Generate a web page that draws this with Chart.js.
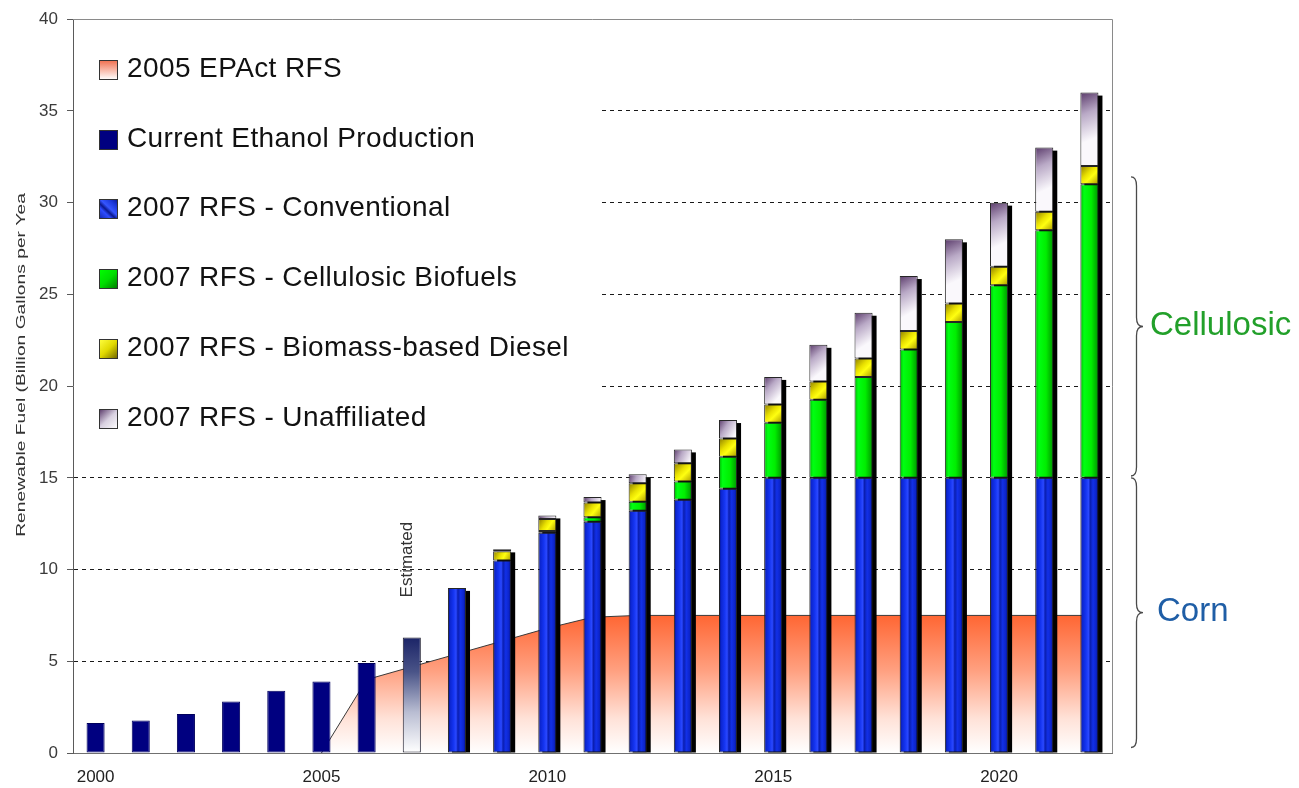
<!DOCTYPE html>
<html>
<head>
<meta charset="utf-8">
<title>Renewable Fuel Standard</title>
<script src="https://cdn.jsdelivr.net/npm/chart.js@4/dist/chart.umd.min.js"></script>
<style>
  html, body { margin: 0; padding: 0; background: #ffffff; }
  #wrap { position: relative; width: 1299px; height: 788px; }
</style>
</head>
<body>
<div id="wrap"><canvas id="rfs"></canvas></div>
<script>
// ---- data (billion gallons per year) ----
const years = ['2000','2001','2002','2003','2004','2005','2006','2007','2008','2009','2010',
               '2011','2012','2013','2014','2015','2016','2017','2018','2019','2020','2021','2022'];
const labeledYears = ['2000','2005','2010','2015','2020'];
const yMax = 40;
const yStep = 5;

const seriesNames = [
  '2005 EPAct RFS',
  'Current Ethanol Production',
  '2007 RFS - Conventional',
  '2007 RFS - Cellulosic Biofuels',
  '2007 RFS - Biomass-based Diesel',
  '2007 RFS - Unaffiliated'
];

const epactRfs        = [null,null,null,null,null,0,4.0,4.7,5.4,6.1,6.8,7.4,7.5,7.5,7.5,7.5,7.5,7.5,7.5,7.5,7.5,7.5,7.5];
const currentEthanol  = [1.63,1.77,2.13,2.81,3.40,3.90,4.90,null,null,null,null,null,null,null,null,null,null,null,null,null,null,null,null];
const estimatedEthanol= [null,null,null,null,null,null,null,6.3,null,null,null,null,null,null,null,null,null,null,null,null,null,null,null];
const conventional    = [null,null,null,null,null,null,null,null,9.0,10.5,12.0,12.6,13.2,13.8,14.4,15,15,15,15,15,15,15,15];
const cellulosic      = [null,null,null,null,null,null,null,null,null,null,0.1,0.25,0.5,1.0,1.75,3.0,4.25,5.5,7.0,8.5,10.5,13.5,16.0];
const biomassDiesel   = [null,null,null,null,null,null,null,null,null,0.5,0.65,0.8,1.0,1.0,1.0,1.0,1.0,1.0,1.0,1.0,1.0,1.0,1.0];
const unaffiliated    = [null,null,null,null,null,null,null,null,null,0.1,0.2,0.3,0.5,0.75,1.0,1.5,2.0,2.5,3.0,3.5,3.5,3.5,4.0];

const yTitle = 'Renewable Fuel (Billion Gallons per Yea';
const estimatedLabel = 'Estimated';
const braces = [
  { text: 'Cellulosic', from: 15.1, to: 31.4, color: '#22a02a', textX: 1150 },
  { text: 'Corn',       from: 0.3,  to: 15.0, color: '#1f5ea6', textX: 1157 }
];

const FONT = "'Liberation Sans', Arial, Helvetica, sans-serif";

// ---- fills ----
function grad(g, stops) { stops.forEach(([o, c]) => g.addColorStop(o, c)); return g; }

const barPaint = {
  navy: () => '#000080',
  estimated: (c, x0, y0, x1, y1) => grad(c.createLinearGradient(0, y0, 0, y1),
    [[0, '#1b2467'], [0.3, '#4a5488'], [0.65, '#b9bdd2'], [1, '#ffffff']]),
  conventional: (c, x0, y0, x1, y1) => grad(c.createLinearGradient(x0, 0, x1, 0),
    [[0, '#000c78'], [0.12, '#0c26d0'], [0.3, '#1434f0'], [0.45, '#2a48ff'], [0.55, '#0a1eb0'],
     [0.7, '#1230e8'], [0.88, '#0c24c8'], [1, '#000a70']]),
  cellulosic: (c, x0, y0, x1, y1) => grad(c.createLinearGradient(x0, 0, x1, 0),
    [[0, '#00b400'], [0.2, '#00ff12'], [0.6, '#00ee00'], [1, '#009400']]),
  diesel: (c, x0, y0, x1, y1) => grad(c.createLinearGradient(x0, y0, x1, y1),
    [[0, '#8c7c00'], [0.4, '#e8e000'], [0.6, '#ffff10'], [1, '#a89800']]),
  unaffiliated: (c, x0, y0, x1, y1) => {
    const h = Math.min((y1 - y0) * 0.6, 45);
    return grad(c.createLinearGradient(x0, y0, x1, y0 + Math.max(h, 2)),
      [[0, '#5b3b6b'], [0.45, '#b9a9c6'], [1, '#faf8fc']]);
  }
};

const swatchPaint = [
  (c, x0, y0, x1, y1) => grad(c.createLinearGradient(0, y0, 0, y1), [[0, '#f07050'], [1, '#ffffff']]),
  () => '#000080',
  (c, x0, y0, x1, y1) => grad(c.createLinearGradient(x0, y1, x1, y0),
    [[0, '#1228b0'], [0.3, '#2e4cff'], [0.42, '#0a1890'], [0.55, '#3656ff'], [0.8, '#1a36d8'], [1, '#0a1890']]),
  (c, x0, y0, x1, y1) => grad(c.createLinearGradient(x0, y0, x1, y1), [[0, '#00ff00'], [0.5, '#00dd00'], [1, '#007a00']]),
  (c, x0, y0, x1, y1) => grad(c.createLinearGradient(x0, y0, x1, y1), [[0, '#ffff40'], [0.5, '#e0d800'], [1, '#6e6400']]),
  (c, x0, y0, x1, y1) => grad(c.createLinearGradient(x0, y0, x1, y1), [[0, '#5a3a6a'], [0.5, '#d8d0e0'], [1, '#ffffff']])
];

function epactFill(ctx) {
  const ch = ctx.chart, ys = ch.scales && ch.scales.y;
  if (!ys || !ch.chartArea) return '#ffb090';
  const top = ys.getPixelForValue(Math.max(...epactRfs.filter(v => v != null)));
  const bot = ys.getPixelForValue(0);
  if (!Number.isFinite(top) || !Number.isFinite(bot)) return '#ffb090';
  return grad(ch.ctx.createLinearGradient(0, top, 0, bot),
    [[0, '#ff6633'], [0.4, '#ffa080'], [0.75, '#ffe2d8'], [1, '#ffffff']]);
}

// ---- plugins ----
const barPaintPlugin = {
  id: 'barPaint',
  afterDatasetsUpdate(chart) {
    const c = chart.ctx;
    chart.data.datasets.forEach((ds, di) => {
      if (!ds.paint) return;
      chart.getDatasetMeta(di).data.forEach((el, i) => {
        if (ds.data[i] == null) return;
        const p = el.getProps(['x', 'y', 'base', 'width'], true);
        if (![p.x, p.y, p.base, p.width].every(Number.isFinite)) return;
        const x0 = p.x - p.width / 2, x1 = p.x + p.width / 2;
        const y0 = Math.min(p.y, p.base), y1 = Math.max(p.y, p.base);
        el.options = Object.assign({}, el.options, { backgroundColor: barPaint[ds.paint](c, x0, y0, x1, y1) });
      });
    });
  }
};

// black drop shadow behind each RFS stack, drawn right after the EPAct area
const shadowPlugin = {
  id: 'stackShadow',
  afterDatasetDraw(chart, args) {
    if (chart.data.datasets[args.index].type !== 'line') return;
    const c = chart.ctx;
    const metas = chart.data.datasets.map((ds, di) => ds.shadow ? chart.getDatasetMeta(di) : null).filter(Boolean);
    c.save();
    c.fillStyle = '#000000';
    years.forEach((_, i) => {
      let top = Infinity, base = -Infinity, x = null, w = 0;
      metas.forEach(meta => {
        if (chart.data.datasets[meta.index].data[i] == null) return;
        const el = meta.data[i];
        top = Math.min(top, el.y); base = Math.max(base, el.base); x = el.x; w = el.width;
      });
      if (x == null) return;
      c.fillRect(x - w / 2 + 4, top + 3, w, base - top - 3);
    });
    c.restore();
  }
};

// legend panel and frame, painted over the grid but under the bars
const legendPlugin = {
  id: 'panelLegend',
  beforeDatasetsDraw(chart) {
    const c = chart.ctx, a = chart.chartArea;
    c.save();
    c.strokeStyle = '#8a8a8a';
    c.lineWidth = 1;
    c.beginPath();
    c.moveTo(a.left, Math.round(a.top) + 0.5);
    c.lineTo(Math.round(a.right) + 0.5, Math.round(a.top) + 0.5);
    c.lineTo(Math.round(a.right) + 0.5, a.bottom);
    c.stroke();

    c.fillStyle = '#ffffff';
    c.fillRect(a.left + 1, a.top + 2, 524, 436);

    const baseline0 = 76.7, step = 69.8;
    c.font = `28px ${FONT}`;
    if ('letterSpacing' in c) c.letterSpacing = '0.4px';
    c.textBaseline = 'alphabetic';
    c.textAlign = 'left';
    seriesNames.forEach((name, k) => {
      const bl = baseline0 + k * step;
      const x0 = 99.5, y0 = Math.round(bl - 17) + 0.5, w = 18, h = 19;
      c.fillStyle = swatchPaint[k](c, x0, y0, x0 + w, y0 + h);
      c.fillRect(x0, y0, w, h);
      c.strokeStyle = '#333333';
      c.strokeRect(x0, y0, w, h);
      c.fillStyle = '#111111';
      c.fillText(name, 127, bl);
    });
    c.restore();
  }
};

function drawBrace(c, xHook, xStem, xTip, yTop, yMid, yBot) {
  const r = 9;
  c.beginPath();
  c.moveTo(xHook, yTop);
  c.quadraticCurveTo(xStem, yTop, xStem, yTop + r);
  c.lineTo(xStem, yMid - r);
  c.quadraticCurveTo(xStem, yMid, xTip, yMid);
  c.quadraticCurveTo(xStem, yMid, xStem, yMid + r);
  c.lineTo(xStem, yBot - r);
  c.quadraticCurveTo(xStem, yBot, xHook, yBot);
  c.stroke();
}

const notesPlugin = {
  id: 'notes',
  afterDraw(chart) {
    const c = chart.ctx, xs = chart.scales.x, ys = chart.scales.y;
    c.save();

    // braces with their captions
    c.strokeStyle = '#4a4a4a';
    c.lineWidth = 1.3;
    braces.forEach(b => {
      const yTop = ys.getPixelForValue(b.to), yBot = ys.getPixelForValue(b.from);
      const yMid = (yTop + yBot) / 2;
      drawBrace(c, 1131, 1136.5, 1143, yTop, yMid, yBot);
      c.font = `33px ${FONT}`;
      c.fillStyle = b.color;
      c.textAlign = 'left';
      c.textBaseline = 'alphabetic';
      c.fillText(b.text, b.textX, yMid + 8.5);
    });

    // "Estimated" above the 2007 bar
    const iEst = estimatedEthanol.findIndex(v => v != null);
    const ex = xs.getPixelForValue(iEst) + 0.5;
    const ey = ys.getPixelForValue(estimatedEthanol[iEst]) - 40;
    c.save();
    c.translate(ex, ey);
    c.rotate(-Math.PI / 2);
    c.font = `17px ${FONT}`;
    c.fillStyle = '#333333';
    c.textAlign = 'left';
    c.textBaseline = 'alphabetic';
    c.fillText(estimatedLabel, 0, 0);
    c.restore();

    // value axis title
    c.save();
    c.translate(24.5, 365);
    c.rotate(-Math.PI / 2);
    c.scale(1.48, 1);
    c.font = `13px ${FONT}`;
    c.fillStyle = '#333333';
    c.textAlign = 'center';
    c.textBaseline = 'alphabetic';
    c.fillText(yTitle, 0, 0);
    c.restore();

    c.restore();
  }
};

// ---- chart ----
const datasets = [
  { type: 'line', label: seriesNames[0], data: epactRfs, stack: 'epact', order: 10,
    fill: 'origin', backgroundColor: epactFill, borderColor: '#3a3a3a', borderWidth: 1,
    pointRadius: 0, tension: 0 },
  { label: seriesNames[1], data: currentEthanol, paint: 'navy', borderColor: '#00005c' },
  { label: 'Estimated', data: estimatedEthanol, paint: 'estimated', borderColor: '#1e1e2e' },
  { label: seriesNames[2], data: conventional, paint: 'conventional', shadow: true },
  { label: seriesNames[3], data: cellulosic, paint: 'cellulosic', shadow: true },
  { label: seriesNames[4], data: biomassDiesel, paint: 'diesel', shadow: true },
  { label: seriesNames[5], data: unaffiliated, paint: 'unaffiliated', shadow: true }
];

new Chart(document.getElementById('rfs'), {
  type: 'bar',
  data: { labels: years, datasets },
  plugins: [barPaintPlugin, shadowPlugin, legendPlugin, notesPlugin],
  options: {
    responsive: true,
    maintainAspectRatio: false,
    devicePixelRatio: 1,
    animation: false,
    events: [],
    layout: { padding: { left: 0, top: 13, right: 187, bottom: 0 } },
    datasets: {
      bar: {
        stack: 'rfs',
        barPercentage: 0.4,
        categoryPercentage: 1,
        borderWidth: 1,
        borderColor: '#262626',
        borderSkipped: false
      }
    },
    plugins: { legend: { display: false }, tooltip: { enabled: false } },
    scales: {
      x: {
        stacked: true,
        offset: true,
        afterFit: s => { s.height = 35; },
        grid: { display: false, drawTicks: false },
        border: { display: true, color: '#707070', width: 1 },
        ticks: {
          autoSkip: false, maxRotation: 0, minRotation: 0, padding: 14,
          color: '#222222', font: { family: FONT, size: 17 },
          callback: (v, i) => labeledYears.includes(years[i]) ? years[i] : ''
        }
      },
      y: {
        stacked: true,
        min: 0,
        max: yMax,
        afterFit: s => { s.width = 73; },
        border: { display: true, color: '#5a5a5a', width: 1, dash: [4, 4] },
        grid: {
          color: ctx => (ctx.tick && (ctx.tick.value === 0 || ctx.tick.value === yMax)) ? 'rgba(0,0,0,0)' : '#1a1a1a',
          lineWidth: 1,
          drawTicks: true,
          tickLength: 6,
          tickColor: '#5a5a5a',
          tickBorderDash: []
        },
        ticks: {
          stepSize: yStep, padding: 9,
          color: '#3a3a3a', font: { family: FONT, size: 17 }
        }
      }
    }
  }
});
</script>
</body>
</html>
